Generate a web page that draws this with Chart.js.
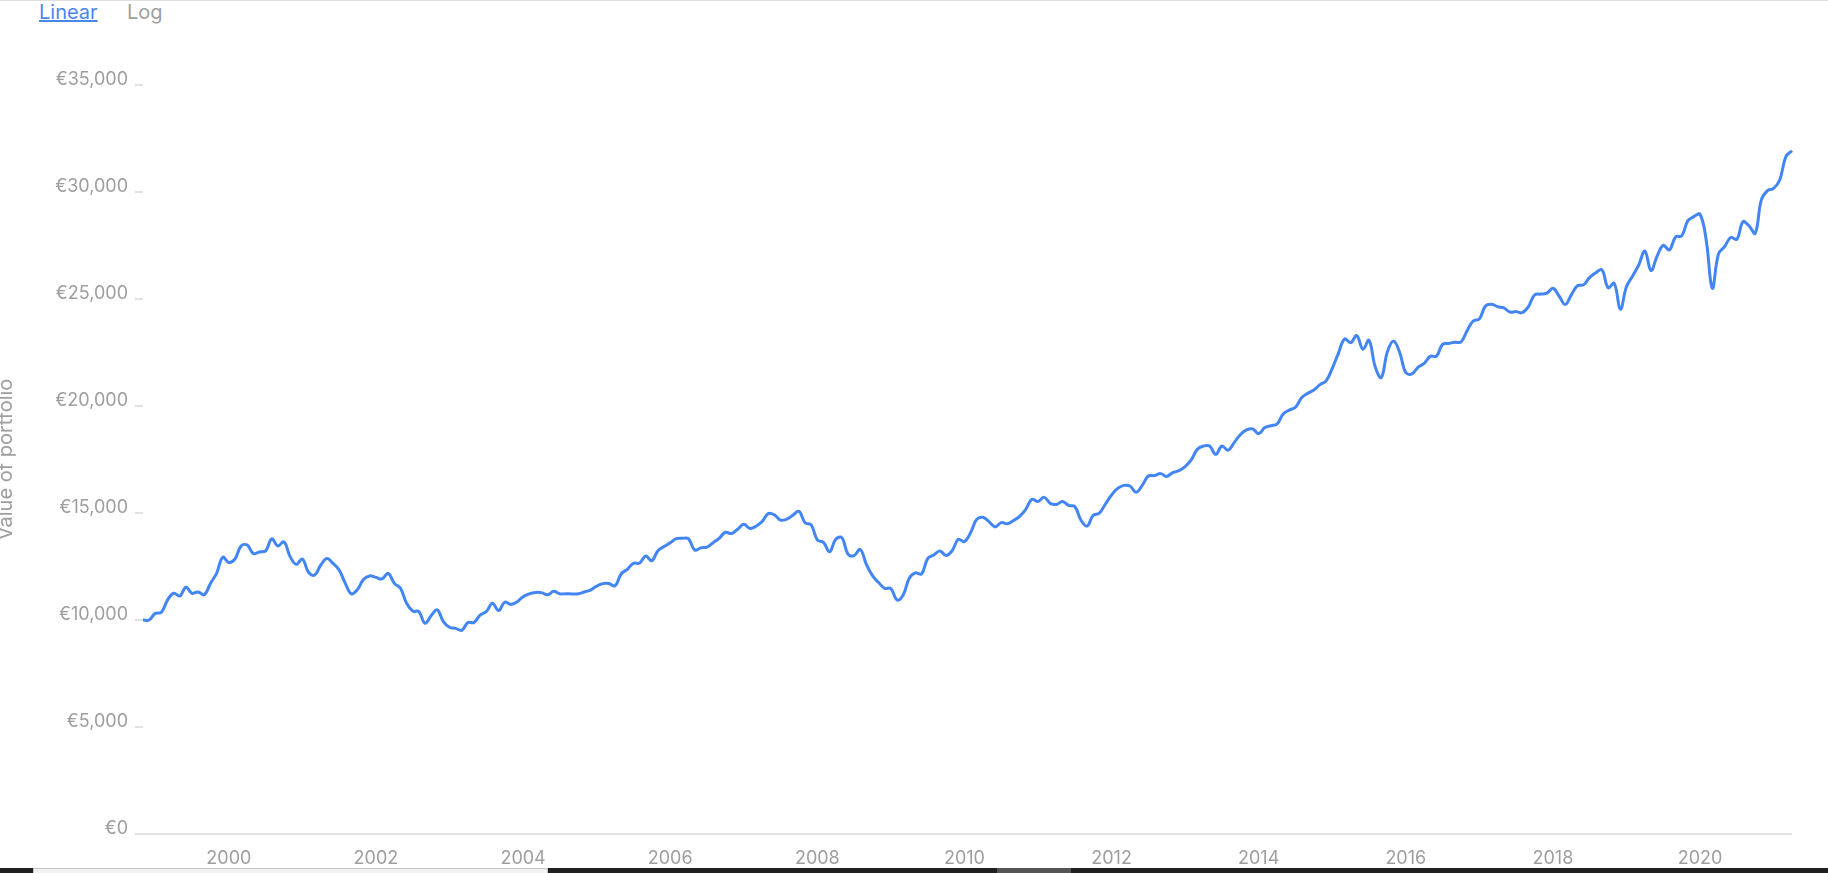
<!DOCTYPE html>
<html>
<head>
<meta charset="utf-8">
<script src="https://cdn.jsdelivr.net/npm/chart.js@4"></script>
<style>
  body { margin: 0; background: #fff; overflow: hidden; font-family: Inter, sans-serif; }
  #topline { position: absolute; left: 0; top: 0; width: 1828px; height: 1px; background: #e0e0e0; }
  .scale-link { position: absolute; top: 0; font-size: 20px; line-height: 25px; }
  #linear { left: 39px; color: #4a86f0; text-decoration: underline; }
  #log { left: 127px; color: #9e9e9e; }
  #wrap { position: absolute; left: 0; top: 0; width: 1828px; height: 868px; }
  #bar { position: absolute; left: 0; top: 868px; width: 1828px; height: 5px; background: #202020; }
  #bar .a { position: absolute; left: 33px; top: 0; width: 513px; height: 4px; background: #f2f2f2; border: 1px solid #c4c4c4; border-bottom: 0; }
  #bar .b { position: absolute; left: 997px; top: 0; width: 74px; height: 5px; background: #555; }
</style>
</head>
<body>
<div id="topline"></div>
<span class="scale-link" id="linear">Linear</span>
<span class="scale-link" id="log">Log</span>
<div id="wrap"><canvas id="portfolio-chart"></canvas></div>
<div id="bar"><div class="a"></div><div class="b"></div></div>
<script>
  // monthly portfolio value, first point is Nov 1998
  var startYear = 1998;
  var startMonth = 11;
  var portfolioValues = [
    10000, 10000, 10310, 10360, 10930, 11250, 11120, 11530, 11250, 11310, 11180, 11710,
    12180, 12930, 12690, 12850, 13460, 13500, 13100, 13180, 13230, 13790, 13460, 13650,
    12960, 12600, 12850, 12230, 12100, 12570, 12870, 12650, 12340, 11710, 11220, 11430,
    11900, 12060, 11990, 11920, 12180, 11710, 11480, 10780, 10420, 10390, 9850, 10200,
    10470, 9920, 9660, 9610, 9520, 9880, 9890, 10230, 10390, 10780, 10440, 10830,
    10730, 10840, 11090, 11220, 11290, 11280, 11180, 11340, 11220, 11230, 11220, 11230,
    11310, 11400, 11580, 11700, 11710, 11600, 12150, 12370, 12650, 12660, 12990, 12770,
    13240, 13430, 13610, 13800, 13820, 13790, 13270, 13370, 13410, 13610, 13820, 14100,
    14040, 14240, 14470, 14280, 14380, 14600, 14970, 14910, 14670, 14710, 14890, 15080,
    14550, 14440, 13740, 13630, 13190, 13770, 13850, 13080, 13010, 13300, 12600, 12070,
    11750, 11480, 11470, 10940, 11170, 11950, 12200, 12150, 12870, 13040, 13230, 13010,
    13240, 13770, 13660, 14080, 14700, 14800, 14600, 14350, 14550, 14500, 14650, 14840,
    15170, 15640, 15540, 15730, 15450, 15400, 15540, 15360, 15300, 14670, 14390, 14890,
    14990, 15420, 15840, 16150, 16290, 16260, 15970, 16290, 16730, 16750, 16840, 16710,
    16890, 16980, 17170, 17480, 17980, 18130, 18130, 17740, 18130, 17930, 18290, 18660,
    18880, 18930, 18710, 18990, 19080, 19160, 19630, 19810, 19940, 20390, 20590, 20750,
    21000, 21170, 21760, 22460, 23130, 22960, 23290, 22650, 23070, 21840, 21330, 22540,
    23040, 22500, 21560, 21500, 21810, 21990, 22320, 22330, 22880, 22920, 22980, 22990,
    23520, 23970, 24070, 24670, 24750, 24640, 24580, 24390, 24410, 24360, 24640, 25190,
    25230, 25270, 25500, 25140, 24740, 25190, 25620, 25660, 26010, 26230, 26360, 25530,
    25730, 24520, 25580, 26080, 26590, 27240, 26330, 27010, 27510, 27290, 27900, 27950,
    28650, 28850, 28960, 27760, 25500, 27100, 27450, 27870, 27790, 28610, 28410, 28070,
    29630, 30060, 30170, 30560, 31650, 31930
  ];
  var yTicks = [0, 5000, 10000, 15000, 20000, 25000, 30000, 35000];
  var yearLabels = ['2000', '2002', '2004', '2006', '2008', '2010', '2012', '2014', '2016', '2018', '2020'];

  var months = [];
  for (var i = 0; i < portfolioValues.length; i++) {
    var m = startMonth - 1 + i;
    var y = startYear + Math.floor(m / 12);
    var mm = (m % 12) + 1;
    months.push(y + '-' + (mm < 10 ? '0' + mm : mm));
  }

  var grey = '#9e9e9e';
  var tickFont = { family: 'Inter', size: 18 };

  var ctx = document.getElementById('portfolio-chart').getContext('2d');
  var portfolioChart = new Chart(ctx, {
    type: 'line',
    data: {
      labels: months,
      datasets: [{
        label: 'Value of portfolio',
        data: portfolioValues,
        borderColor: '#4285f4',
        backgroundColor: '#4285f4',
        borderWidth: 3,
        pointRadius: 0,
        tension: 0.4,
        fill: false
      }]
    },
    options: {
      responsive: true,
      maintainAspectRatio: false,
      animation: false,
      devicePixelRatio: 1,
      layout: { padding: { left: 0, top: 85, right: 36, bottom: 0 } },
      plugins: { legend: { display: false }, tooltip: { enabled: false } },
      scales: {
        x: {
          grid: { display: false, drawTicks: false },
          border: { display: false },
          afterFit: function (scale) { scale.height = 34; },
          ticks: {
            autoSkip: false,
            maxRotation: 0,
            padding: 14,
            color: grey,
            font: tickFont,
            callback: function (val, idx) {
              var lbl = months[idx];
              var yr = lbl.slice(0, 4);
              if (lbl.slice(5) === '01' && yearLabels.indexOf(yr) >= 0) return yr;
              return null;
            }
          }
        },
        y: {
          min: 0,
          max: 35000,
          afterFit: function (scale) { scale.width = 143; },
          afterBuildTicks: function (scale) {
            scale.ticks = yTicks.map(function (v) { return { value: v }; });
          },
          border: { display: false },
          grid: {
            drawOnChartArea: true,
            color: function (c) { return c.tick && c.tick.value === 0 ? '#e2e2e2' : 'rgba(0,0,0,0)'; },
            lineWidth: 2,
            tickColor: '#e2e2e2',
            tickLength: 8,
            tickWidth: 2
          },
          ticks: {
            padding: 7,
            labelOffset: -5,
            color: grey,
            font: tickFont,
            callback: function (v) { return '€' + v.toLocaleString('en-US'); }
          },
          title: {
            display: true,
            text: 'Value of portfolio',
            color: grey,
            font: { family: 'Inter', size: 20 },
            padding: { top: -6, bottom: 0 }
          }
        }
      }
    }
  });
</script>
</body>
</html>
